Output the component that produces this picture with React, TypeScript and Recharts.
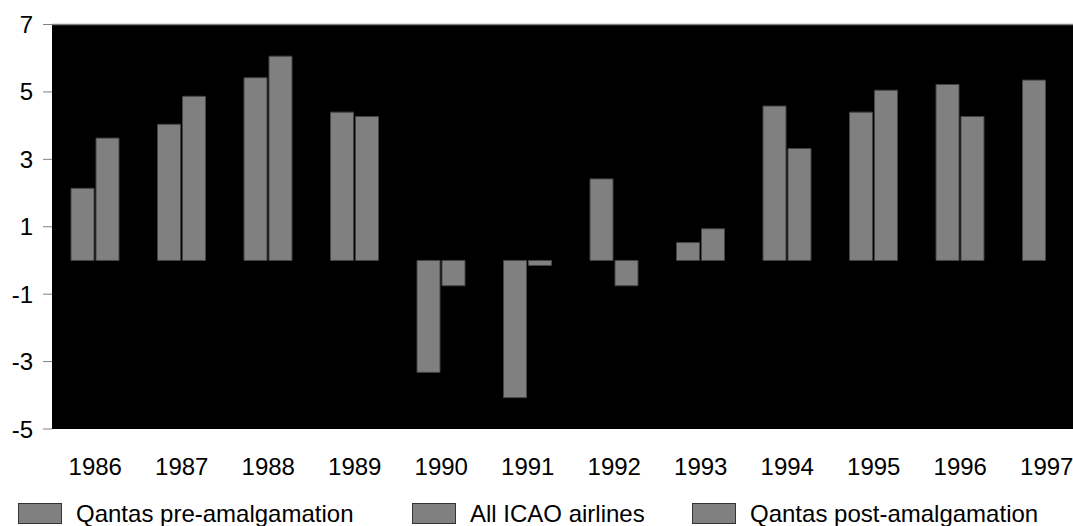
import { BarChart, Bar, XAxis, YAxis, CartesianGrid, ReferenceLine, Legend } from 'recharts'

const years = ['1986', '1987', '1988', '1989', '1990', '1991', '1992', '1993', '1994', '1995', '1996', '1997']
const qantasPre = [2.14, 4.04, 5.42, 4.4, -3.32, -4.07, 2.42, null, null, null, null, null]
const qantasPost = [null, null, null, null, null, null, null, 0.53, 4.58, 4.4, 5.22, 5.35]
const icao = [3.63, 4.87, 6.06, 4.27, -0.75, -0.15, -0.75, 0.94, 3.32, 5.05, 4.27, null]
const yTicks = [-5, -3, -1, 1, 3, 5, 7]

const data = years.map((year, i) => ({
  year,
  pre: qantasPre[i],
  post: qantasPost[i],
  icao: icao[i],
}))

const font = 'Arial, "Liberation Sans", sans-serif'
const legendItems = [
  { label: 'Qantas pre-amalgamation', left: 18 },
  { label: 'All ICAO airlines', left: 412 },
  { label: 'Qantas post-amalgamation', left: 692 },
]

function ChartLegend() {
  return (
    <div style={{ position: 'relative', height: 36, fontFamily: font, fontSize: 24, color: '#000' }}>
      {legendItems.map((item) => (
        <div key={item.label} style={{ position: 'absolute', left: item.left, top: 13, display: 'flex', alignItems: 'center', whiteSpace: 'nowrap' }}>
          <span style={{ display: 'inline-block', width: 42, height: 19, background: '#808080', border: '1px solid #333', marginRight: 14 }} />
          <span style={{ lineHeight: '20px' }}>{item.label}</span>
        </div>
      ))}
    </div>
  )
}

export default function App() {
  return (
    <div style={{ position: 'fixed', top: 0, left: 0, width: 1073, height: 526, overflow: 'hidden', background: '#fff' }}>
      <BarChart
        width={1090}
        height={526}
        data={data}
        margin={{ top: 24.5, right: 0, bottom: 0, left: 0 }}
        barSize={23}
        barGap={2}
      >
        <CartesianGrid fill="#000" horizontal={false} vertical={false} />
        <XAxis
          dataKey="year"
          axisLine={false}
          tickLine={false}
          tickSize={0}
          tickMargin={29}
          height={61}
          interval={0}
          tick={{ fill: '#000', fontSize: 24, fontFamily: font }}
        />
        <YAxis
          domain={[-5, 7]}
          ticks={yTicks}
          interval={0}
          width={52}
          axisLine={false}
          tickSize={9}
          tickMargin={10}
          tickLine={{ stroke: '#808080' }}
          tick={{ fill: '#000', fontSize: 24, fontFamily: font }}
        />
        <ReferenceLine y={7} stroke="#808080" strokeWidth={1.5} />
        <Legend verticalAlign="bottom" content={() => <ChartLegend />} />
        <Bar dataKey="pre" name="Qantas pre-amalgamation" stackId="q" fill="#808080" stroke="#444" strokeWidth={1} isAnimationActive={false} />
        <Bar dataKey="post" name="Qantas post-amalgamation" stackId="q" fill="#808080" stroke="#444" strokeWidth={1} isAnimationActive={false} />
        <Bar dataKey="icao" name="All ICAO airlines" fill="#808080" stroke="#444" strokeWidth={1} isAnimationActive={false} />
      </BarChart>
    </div>
  )
}
